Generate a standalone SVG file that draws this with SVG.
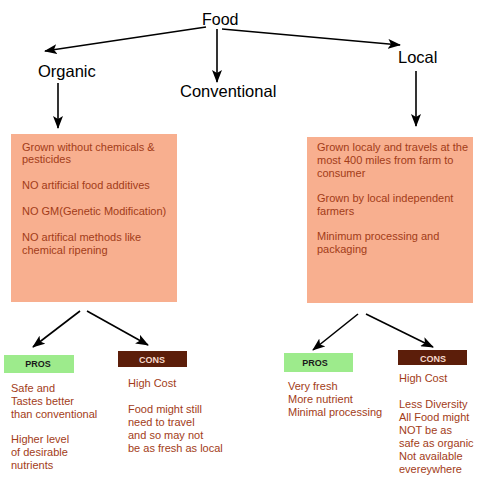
<svg xmlns="http://www.w3.org/2000/svg" width="480" height="480" viewBox="0 0 480 480">
<defs>
<marker id="ah" viewBox="0 0 13 10" refX="12" refY="5" markerWidth="13" markerHeight="10" markerUnits="userSpaceOnUse" orient="auto">
<path d="M0,0 L13,5 L0,10 L3,5 Z" fill="#000"/>
</marker>
<style>
.lbl{font-family:"Liberation Sans",Arial,sans-serif;font-size:16.5px;fill:#000}
.bt{font-family:"Liberation Sans",Arial,sans-serif;font-size:11px;fill:#A23C18}
.box{fill:#F8AF8F}
.tag{font-family:"Liberation Sans",Arial,sans-serif;font-size:9px;font-weight:bold;text-anchor:middle}
.con{stroke:#000;stroke-width:1.6;fill:none;marker-end:url(#ah)}
</style>
</defs>
<rect width="480" height="480" fill="#fff"/>
<g id="connectors">
<line class="con" x1="206" y1="27" x2="45" y2="51"/>
<line class="con" x1="217" y1="29" x2="217" y2="82"/>
<line class="con" x1="222" y1="29" x2="400" y2="45"/>
<line class="con" x1="58" y1="83" x2="58" y2="128"/>
<line class="con" x1="416" y1="71" x2="416" y2="126"/>
<line class="con" x1="80" y1="311" x2="33" y2="347"/>
<line class="con" x1="87" y1="311" x2="148" y2="345"/>
<line class="con" x1="358" y1="314" x2="313" y2="350"/>
<line class="con" x1="366" y1="314" x2="433" y2="347"/>
</g>
<g id="food"><text class="lbl" x="202" y="25" style="font-size:16px">Food</text></g>
<g id="organic"><text class="lbl" x="38" y="77">Organic</text></g>
<g id="conventional"><text class="lbl" x="180" y="97">Conventional</text></g>
<g id="local"><text class="lbl" x="398" y="63">Local</text></g>
<g id="organic-box">
<rect class="box" x="11" y="134" width="166" height="168"/>
<text class="bt" x="22" y="151">Grown without chemicals &amp;</text>
<text class="bt" x="22" y="163">pesticides</text>
<text class="bt" x="22" y="189">NO artificial food additives</text>
<text class="bt" x="22" y="215">NO GM(Genetic Modification)</text>
<text class="bt" x="22" y="241">NO artifical methods like</text>
<text class="bt" x="22" y="254">chemical ripening</text>
</g>
<g id="local-box">
<rect class="box" x="307" y="137" width="166" height="166"/>
<text class="bt" x="317" y="151">Grown localy and travels at the</text>
<text class="bt" x="317" y="164">most 400 miles from farm to</text>
<text class="bt" x="317" y="177">consumer</text>
<text class="bt" x="317" y="202">Grown by local independent</text>
<text class="bt" x="317" y="215">farmers</text>
<text class="bt" x="317" y="240">Minimum processing and</text>
<text class="bt" x="317" y="253">packaging</text>
</g>
<g id="organic-pros">
<rect x="4" y="355" width="70" height="18" fill="#9DEB8C"/>
<text class="tag" x="38" y="367" fill="#1a1a1a">PROS</text>
<text class="bt" x="11" y="392">Safe and</text>
<text class="bt" x="11" y="405">Tastes better</text>
<text class="bt" x="11" y="418">than conventional</text>
<text class="bt" x="11" y="443">Higher level</text>
<text class="bt" x="11" y="456">of desirable</text>
<text class="bt" x="11" y="469">nutrients</text>
</g>
<g id="organic-cons">
<rect x="118" y="351" width="69" height="16" fill="#5C1E0A"/>
<text class="tag" x="152" y="363" fill="#F6D9CC">CONS</text>
<text class="bt" x="128" y="387">High Cost</text>
<text class="bt" x="128" y="413">Food might still</text>
<text class="bt" x="128" y="426">need to travel</text>
<text class="bt" x="128" y="439">and so may not</text>
<text class="bt" x="128" y="452">be as fresh as local</text>
</g>
<g id="local-pros">
<rect x="284" y="353" width="69" height="19" fill="#9DEB8C"/>
<text class="tag" x="315" y="366" fill="#1a1a1a">PROS</text>
<text class="bt" x="288" y="390">Very fresh</text>
<text class="bt" x="288" y="403">More nutrient</text>
<text class="bt" x="288" y="416">Minimal processing</text>
</g>
<g id="local-cons">
<rect x="398" y="350" width="69" height="15" fill="#5C1E0A"/>
<text class="tag" x="433" y="362" fill="#F6D9CC">CONS</text>
<text class="bt" x="399" y="382">High Cost</text>
<text class="bt" x="399" y="408">Less Diversity</text>
<text class="bt" x="399" y="421">All Food might</text>
<text class="bt" x="399" y="434">NOT be as</text>
<text class="bt" x="399" y="447">safe as organic</text>
<text class="bt" x="399" y="460">Not available</text>
<text class="bt" x="399" y="473">evereywhere</text>
</g>
</svg>
